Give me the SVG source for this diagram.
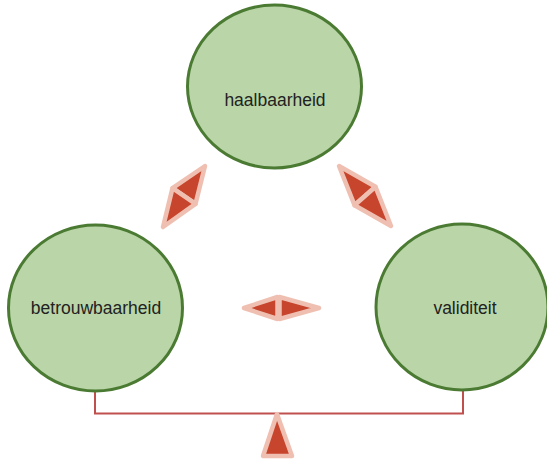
<svg xmlns="http://www.w3.org/2000/svg" width="547" height="460" viewBox="0 0 547 460">
<style>
.node{fill:#bad6a8;stroke:#4b7b33;stroke-width:3}
.lbl{font-family:"Liberation Sans",Arial,sans-serif;font-size:17.5px;fill:#222222;text-anchor:middle}
.arr{fill:#c7452c;stroke:#efc0b2;stroke-width:4.5;stroke-linejoin:round}
.beam{fill:none;stroke:#c0504d;stroke-width:2}
</style>
<rect width="547" height="460" fill="#ffffff"/>
<g id="connectors">
<path class="beam" d="M95,390 V413.5 H463 V390"/>
<polygon class="arr" points="277,414 263,456 292,456"/>
<polygon class="arr" points="205,166 172.5,188.1 195.5,203.9"/>
<polygon class="arr" points="163,227 172.5,188.1 195.5,203.9"/>
<polygon class="arr" points="339,166 375.5,186.8 354.5,205.2"/>
<polygon class="arr" points="391,226 375.5,186.8 354.5,205.2"/>
<polygon class="arr" points="244,308 277.5,297 277.5,319"/>
<polygon class="arr" points="319,308 279.5,297 279.5,319"/>
</g>
<g id="haalbaarheid">
<ellipse class="node" cx="274.5" cy="86.5" rx="87" ry="81.5"/>
<text class="lbl" x="275" y="106">haalbaarheid</text>
</g>
<g id="betrouwbaarheid">
<ellipse class="node" cx="95.5" cy="308" rx="87" ry="83"/>
<text class="lbl" x="96" y="314">betrouwbaarheid</text>
</g>
<g id="validiteit">
<ellipse class="node" cx="462" cy="307" rx="86" ry="83"/>
<text class="lbl" x="465" y="314">validiteit</text>
</g>
</svg>
